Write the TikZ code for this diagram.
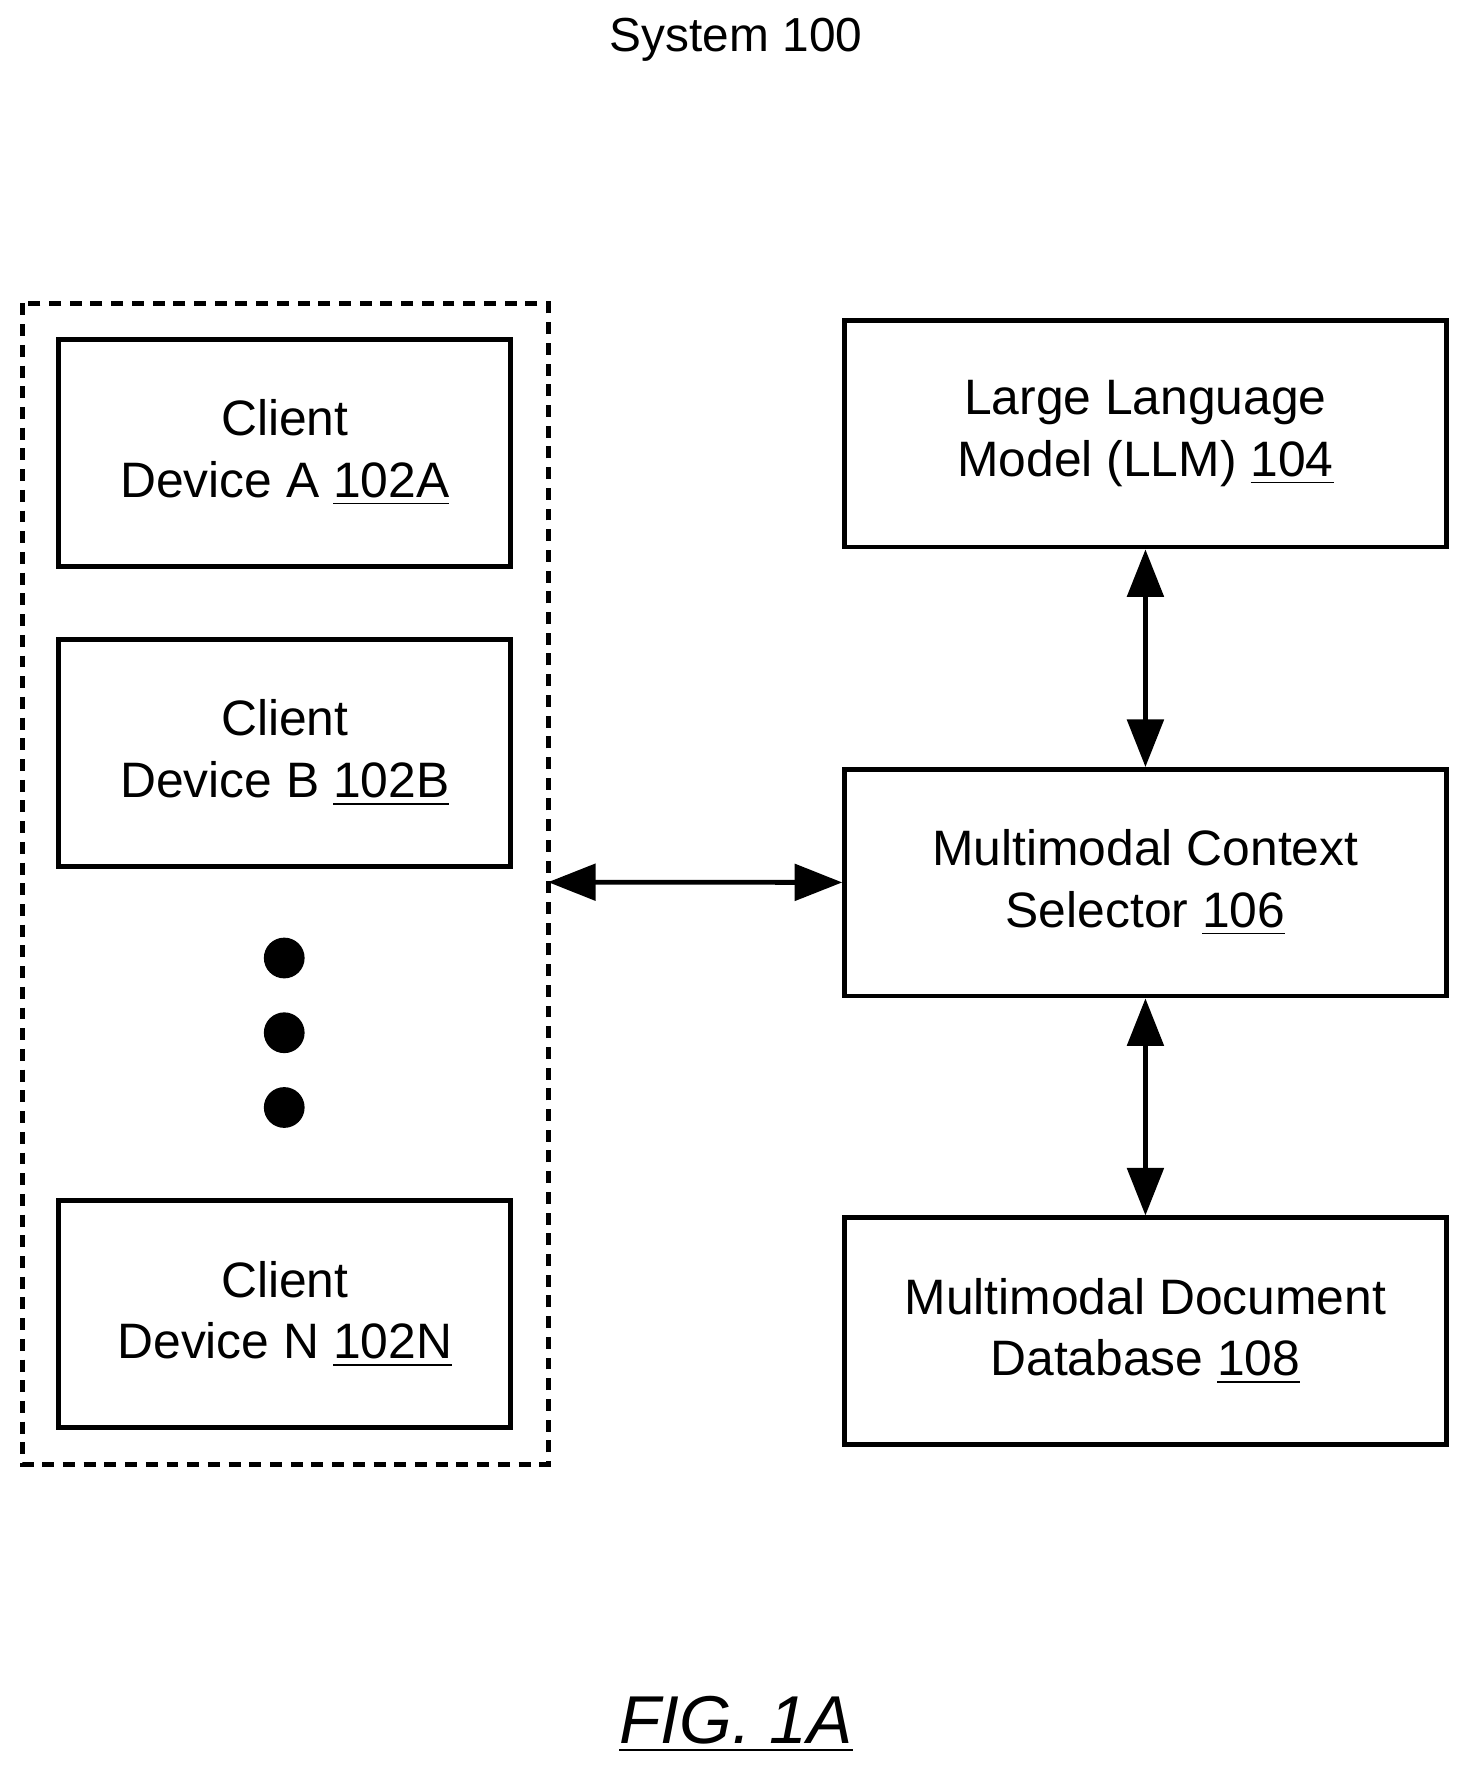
\documentclass[tikz,border=0pt]{standalone}
\usepackage{fontspec}
\setmainfont{Liberation Sans}
\usetikzlibrary{arrows.meta}
\begin{document}
\begin{tikzpicture}[x=0.01cm,y=-0.01cm,
box/.style={draw,line width=1.2pt,minimum width=3.99cm,minimum height=2cm,align=center,font=\fontsize{12.5}{15.5}\selectfont},
bigbox/.style={box,minimum width=5.31cm},
link/.style={line width=1.2pt,{Triangle[length=0.42cm,width=0.32cm]}-{Triangle[length=0.42cm,width=0.32cm]}}]
\useasboundingbox (0,0) rectangle (1300,1571);
\node[font=\fontsize{12}{14}\selectfont] (title) at (650,35) {System 100};
\draw[line width=1.3pt,dash pattern=on 3pt off 2.2pt] (20,268) rectangle (484,1293);
\coordinate (groupe) at (484,779);
\node[box] (clienta) at (251.5,400) {Client\\Device A \underline{102A}};
\node[box] (clientb) at (251.5,665) {Client\\Device B \underline{102B}};
\node[box] (clientn) at (251.5,1160.5) {Client\\Device N \underline{102N}};
\foreach \y in {846,912,978}
{
\fill (251,\y) circle (18);
}
\node[bigbox] (llm) at (1011.5,383) {Large Language\\Model (LLM) \underline{104}};
\node[bigbox] (selector) at (1011.5,779.5) {Multimodal Context\\Selector \underline{106}};
\node[bigbox] (docdb) at (1011.5,1175.5) {Multimodal Document\\Database \underline{108}};
\draw[link] (llm) -- (selector);
\draw[link] (selector) -- (docdb);
\draw[link] (groupe) -- (selector);
\node[font=\fontsize{17}{20}\selectfont\itshape] (fig) at (650,1523) {\underline{FIG. 1A}};
\end{tikzpicture}
\end{document}
